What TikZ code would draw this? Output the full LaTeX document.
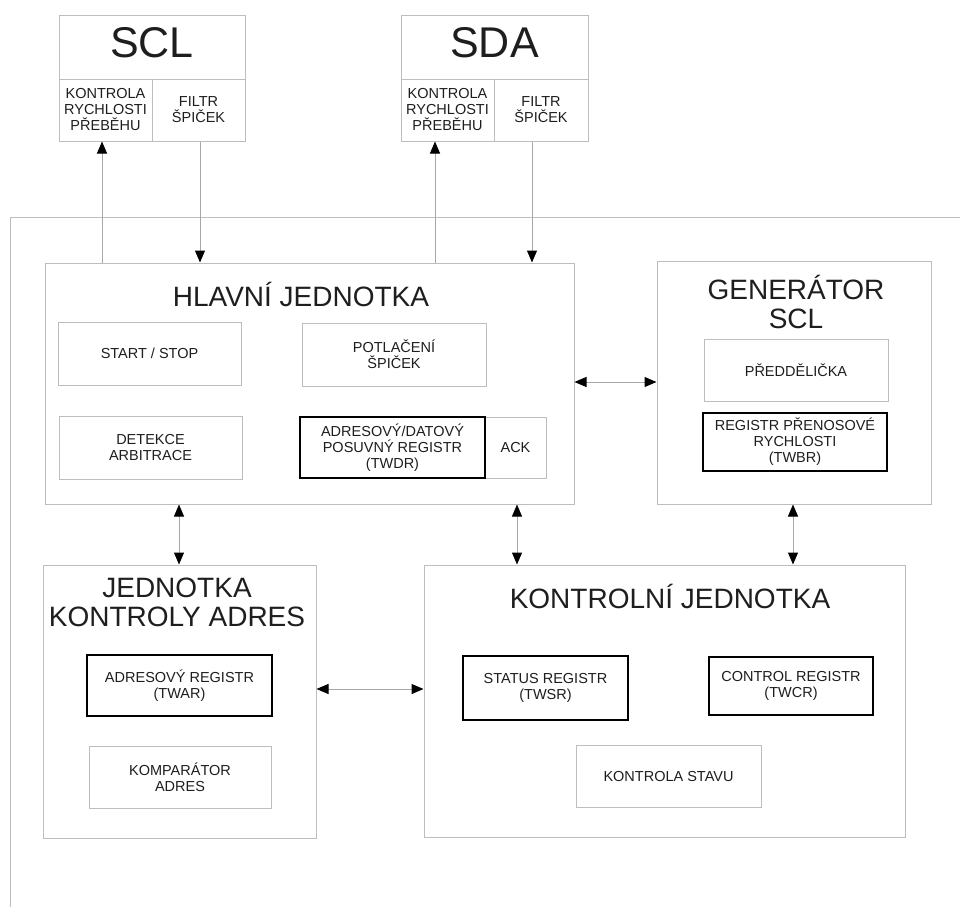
\documentclass[tikz,border=0pt]{standalone}
\usepackage{fontspec}
\setmainfont{Liberation Sans}
\usetikzlibrary{arrows.meta}
\definecolor{boxgray}{HTML}{BDBDBD}
\definecolor{linegray}{HTML}{A8A8A8}
\definecolor{txt}{HTML}{1E1E1E}
\tikzset{
  box/.style={draw=boxgray, line width=1pt, inner sep=0pt, align=center, text=txt,
    font=\fontsize{14.5}{16}\selectfont},
  regbox/.style={box, draw=black, line width=2.4pt},
  title/.style={inner sep=0pt, align=center, text=txt, font=\fontsize{28}{29}\selectfont},
  bigtitle/.style={inner sep=0pt, text=txt, font=\fontsize{43}{45}\selectfont},
  conn/.style={draw=linegray, line width=1pt},
  tipA/.tip={Triangle[length=12pt,width=10pt,color=black]},
  arrU/.style={conn, -tipA},
  arrD/.style={conn, tipA-tipA},
}
\begin{document}
\begin{tikzpicture}[x=1pt,y=-1pt]
\useasboundingbox (0,0) rectangle (960,907);
\fill[white] (0,0) rectangle (960,907);

% outer frame
\draw[draw=boxgray, line width=1pt] (960,217) -- (10,217) -- (10,907);

% SCL block
\node[box, minimum width=186pt, minimum height=63pt] (sclT) at (152,47.5) {};
\node[bigtitle] (sclL) at (152,43) {SCL};
\node[box, minimum width=93pt, minimum height=62pt] (sclK) at (105.5,110) {KONTROLA\\RYCHLOSTI\\PŘEBĚHU};
\node[box, minimum width=93pt, minimum height=62pt] (sclF) at (198.5,110) {FILTR\\ŠPIČEK};

% SDA block
\node[box, minimum width=187pt, minimum height=63pt] (sdaT) at (494.5,47.5) {};
\node[bigtitle] (sdaL) at (494.5,43) {SDA};
\node[box, minimum width=93pt, minimum height=62pt] (sdaK) at (447.5,110) {KONTROLA\\RYCHLOSTI\\PŘEBĚHU};
\node[box, minimum width=94pt, minimum height=62pt] (sdaF) at (541,110) {FILTR\\ŠPIČEK};

% HLAVNI JEDNOTKA
\node[box, minimum width=529pt, minimum height=241pt] (hlavni) at (309.5,383.5) {};
\node[title] (hlavniT) at (301,294) {HLAVNÍ JEDNOTKA};
\node[box, minimum width=183pt, minimum height=63pt] (start) at (149.5,353.5) {START / STOP};
\node[box, minimum width=184pt, minimum height=63pt] (potl) at (394,354.5) {POTLAČENÍ\\ŠPIČEK};
\node[box, minimum width=183pt, minimum height=63pt] (detek) at (150.5,447.5) {DETEKCE\\ARBITRACE};
\node[box, minimum width=61pt, minimum height=61pt] (ack) at (515.5,447.5) {ACK};
\node[regbox, minimum width=185pt, minimum height=61pt] (twdr) at (392.5,447.5) {ADRESOVÝ/DATOVÝ\\POSUVNÝ REGISTR\\(TWDR)};

% GENERATOR SCL
\node[box, minimum width=274pt, minimum height=243pt] (gen) at (794,382.5) {};
\node[title] (genT) at (796,302) {GENERÁTOR\\SCL};
\node[box, minimum width=184pt, minimum height=62pt] (pred) at (796,370) {PŘEDDĚLIČKA};
\node[regbox, minimum width=184pt, minimum height=58pt] (twbr) at (795,442) {REGISTR PŘENOSOVÉ\\RYCHLOSTI\\(TWBR)};

% JEDNOTKA KONTROLY ADRES
\node[box, minimum width=273pt, minimum height=273pt] (jka) at (179.5,701.5) {};
\node[title] (jkaT) at (177,602) {JEDNOTKA\\KONTROLY ADRES};
\node[regbox, minimum width=185pt, minimum height=61pt] (twar) at (179.5,685.5) {ADRESOVÝ REGISTR\\(TWAR)};
\node[box, minimum width=182pt, minimum height=62pt] (komp) at (180,777) {KOMPARÁTOR\\ADRES};

% KONTROLNI JEDNOTKA
\node[box, minimum width=481pt, minimum height=272pt] (kj) at (664.5,701) {};
\node[title] (kjT) at (670,596) {KONTROLNÍ JEDNOTKA};
\node[regbox, minimum width=165pt, minimum height=64pt] (twsr) at (545.5,688) {STATUS REGISTR\\(TWSR)};
\node[regbox, minimum width=164pt, minimum height=58pt] (twcr) at (791,686) {CONTROL REGISTR\\(TWCR)};
\node[box, minimum width=185pt, minimum height=62pt] (stav) at (668.5,776) {KONTROLA STAVU};

% connectors to pins
\draw[arrU] (hlavni.north -| 102,0) -- (sclK.south -| 102,0);
\draw[arrU] (sclF.south -| 200,0) -- (hlavni.north -| 200,0);
\draw[arrU] (hlavni.north -| 435,0) -- (sdaK.south -| 435,0);
\draw[arrU] (sdaF.south -| 532,0) -- (hlavni.north -| 532,0);

% bidirectional connectors
\draw[arrD] (hlavni.east |- 0,382) -- (gen.west |- 0,382);
\draw[arrD] (hlavni.south -| 179,0) -- (jka.north -| 179,0);
\draw[arrD] (hlavni.south -| 517,0) -- (kj.north -| 517,0);
\draw[arrD] (gen.south -| 793,0) -- (kj.north -| 793,0);
\draw[arrD] (jka.east |- 0,689) -- (kj.west |- 0,689);
\end{tikzpicture}
\end{document}
